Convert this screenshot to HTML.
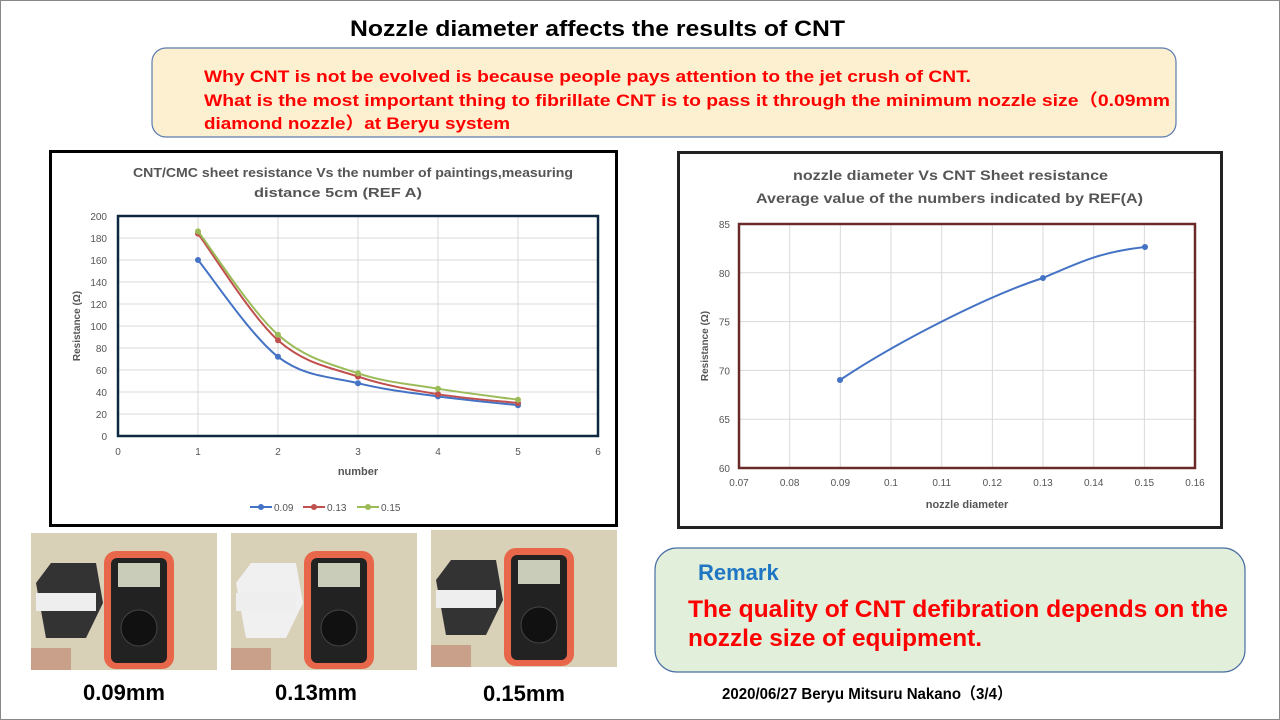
<!DOCTYPE html>
<html><head><meta charset="utf-8"><style>
html,body{margin:0;padding:0;background:#fff}
svg{display:block}
text{font-family:"Liberation Sans","Noto Sans CJK JP",sans-serif}
</style></head><body>
<svg id="s" width="1280" height="720" viewBox="0 0 1280 720" xmlns="http://www.w3.org/2000/svg">
<rect x="0.5" y="0.5" width="1279" height="719" fill="#fff" stroke="#888"/>
<text x="350" y="36" textLength="495" lengthAdjust="spacingAndGlyphs" font-size="22" font-weight="bold" fill="#000">Nozzle diameter affects the results of CNT</text>
<rect x="152" y="48" width="1024" height="89" rx="14" fill="#fdf0d0" stroke="#5b7bb0" stroke-width="1.2"/>
<text font-size="17" font-weight="bold" fill="#f00"><tspan x="204" y="82" textLength="767" lengthAdjust="spacingAndGlyphs">Why CNT is not be evolved is because people pays attention to the jet crush of CNT.</tspan><tspan x="204" y="106" textLength="966" lengthAdjust="spacingAndGlyphs">What is the most important thing to fibrillate CNT is to pass it through the minimum nozzle size（0.09mm</tspan><tspan x="204" y="129" textLength="306" lengthAdjust="spacingAndGlyphs">diamond nozzle）at Beryu system</tspan></text>

<!-- left chart -->
<rect x="50.5" y="151.5" width="566" height="374" fill="#fff" stroke="#000" stroke-width="3"/>
<text x="133" y="177" textLength="440" lengthAdjust="spacingAndGlyphs" font-size="13" font-weight="bold" fill="#555">CNT/CMC sheet resistance Vs the number of paintings,measuring</text>
<text x="254" y="197" textLength="168" lengthAdjust="spacingAndGlyphs" font-size="13" font-weight="bold" fill="#555">distance  5cm (REF A)</text>
<g id="lgrid" stroke="#d9d9d9" stroke-width="1"></g>
<rect x="118" y="216" width="480" height="220" fill="none" stroke="#0e2841" stroke-width="2.5"/>
<g id="lticks" font-size="10" fill="#555"></g>
<text x="358" y="475" text-anchor="middle" font-size="11" font-weight="bold" fill="#555">number</text>
<text transform="translate(80,326) rotate(-90)" text-anchor="middle" font-size="10" font-weight="bold" fill="#555">Resistance  (Ω)</text>
<g id="lseries"></g>
<g font-size="10" fill="#555">
<line x1="250" y1="507" x2="272" y2="507" stroke="#4472c4" stroke-width="2"/><circle cx="261" cy="507" r="3" fill="#4472c4"/><text x="274" y="511">0.09</text>
<line x1="303" y1="507" x2="325" y2="507" stroke="#c0504d" stroke-width="2"/><circle cx="314" cy="507" r="3" fill="#c0504d"/><text x="327" y="511">0.13</text>
<line x1="357" y1="507" x2="379" y2="507" stroke="#9bbb59" stroke-width="2"/><circle cx="368" cy="507" r="3" fill="#9bbb59"/><text x="381" y="511">0.15</text>
</g>

<!-- right chart -->
<rect x="678.5" y="152.5" width="543" height="375" fill="#fff" stroke="#222" stroke-width="3"/>
<text x="793" y="180" textLength="315" lengthAdjust="spacingAndGlyphs" font-size="14" font-weight="bold" fill="#555">nozzle diameter Vs CNT Sheet resistance</text>
<text x="756" y="203" textLength="387" lengthAdjust="spacingAndGlyphs" font-size="14" font-weight="bold" fill="#555">Average value of the numbers indicated by REF(A)</text>
<g id="rgrid" stroke="#d9d9d9" stroke-width="1"></g>
<rect x="739" y="224" width="456" height="244" fill="none" stroke="#6b2a2a" stroke-width="2.5"/>
<g id="rticks" font-size="10" fill="#555"></g>
<text x="967" y="508" text-anchor="middle" font-size="11" font-weight="bold" fill="#555">nozzle diameter</text>
<text transform="translate(708,346) rotate(-90)" text-anchor="middle" font-size="10" font-weight="bold" fill="#555">Resistance  (Ω)</text>
<path d="M840,380 C900,340 990,295 1043,278 C1080,262 1100,252 1145,247" fill="none" stroke="#4472c4" stroke-width="2"/>
<circle cx="840" cy="380" r="3" fill="#4472c4"/><circle cx="1043" cy="278" r="3" fill="#4472c4"/><circle cx="1145" cy="247" r="3" fill="#4472c4"/>

<!-- photos -->
<g id="photos"></g>
<text x="124" y="700" text-anchor="middle" font-size="22" font-weight="bold" fill="#000">0.09mm</text>
<text x="316" y="700" text-anchor="middle" font-size="22" font-weight="bold" fill="#000">0.13mm</text>
<text x="524" y="701" text-anchor="middle" font-size="22" font-weight="bold" fill="#000">0.15mm</text>

<!-- remark -->
<rect x="655" y="548" width="590" height="124" rx="22" fill="#e2efda" stroke="#4a6fa5" stroke-width="1.2"/>
<text x="698" y="580" font-size="22" font-weight="bold" fill="#1f77c4">Remark</text>
<text font-size="24" font-weight="bold" fill="#f00"><tspan x="688" y="617" textLength="540" lengthAdjust="spacingAndGlyphs">The quality of CNT defibration depends on the</tspan><tspan x="688" y="646" textLength="294" lengthAdjust="spacingAndGlyphs">nozzle size of equipment.</tspan></text>
<text x="722" y="699" textLength="290" lengthAdjust="spacingAndGlyphs" font-size="16" font-weight="bold" fill="#000">2020/06/27 Beryu Mitsuru Nakano（3/4）</text>
</svg>
<script>
var NS="http://www.w3.org/2000/svg";
function el(p,t,a,txt){var e=document.createElementNS(NS,t);for(var k in a)e.setAttribute(k,a[k]);if(txt!=null)e.textContent=txt;document.getElementById(p).appendChild(e);return e;}
for(var i=0;i<=10;i++){var y=436-i*22;el("lgrid","line",{x1:118,x2:598,y1:y,y2:y});el("lticks","text",{x:107,y:y+4,"text-anchor":"end"},i*20);}
for(var i=0;i<=6;i++){var x=118+i*80;el("lgrid","line",{x1:x,x2:x,y1:216,y2:436});el("lticks","text",{x:x,y:455,"text-anchor":"middle"},i);}
for(var i=0;i<=5;i++){var y=468-i*48.8;el("rgrid","line",{x1:739,x2:1195,y1:y,y2:y});el("rticks","text",{x:730,y:y+4,"text-anchor":"end"},60+i*5);}
var xl=["0.07","0.08","0.09","0.1","0.11","0.12","0.13","0.14","0.15","0.16"];
for(var i=0;i<10;i++){var x=739+i*50.67;el("rgrid","line",{x1:x,x2:x,y1:224,y2:468});el("rticks","text",{x:x,y:486,"text-anchor":"middle"},xl[i]);}
var S=[["#4472c4",[160,72,48,36,28]],["#c0504d",[184,87,54,38,30]],["#9bbb59",[186,92,57,43,33]]];
S.forEach(function(s){var P=s[1].map(function(v,i){return [198+i*80,436-v*1.1];});
var d="M"+P[0];for(var i=0;i<P.length-1;i++){var p0=P[i-1]||P[i],p1=P[i],p2=P[i+1],p3=P[i+2]||p2;
d+=" C"+(p1[0]+(p2[0]-p0[0])/6)+","+(p1[1]+(p2[1]-p0[1])/6)+" "+(p2[0]-(p3[0]-p1[0])/6)+","+(p2[1]-(p3[1]-p1[1])/6)+" "+p2;}
el("lseries","path",{d:d,fill:"none",stroke:s[0],"stroke-width":2});
P.forEach(function(p){el("lseries","circle",{cx:p[0],cy:p[1],r:3,fill:s[0]});});});
[[31,533,"#333","2.7"],[231,533,"#f0f0f0","3.2"],[431,530,"#333","3.3"]].forEach(function(q){var x=q[0],y=q[1];
el("photos","rect",{x:x,y:y,width:186,height:137,fill:"#d9d0b8"});
el("photos","polygon",{points:[x+5,y+50,x+20,y+30,x+65,y+30,x+72,y+70,x+55,y+105,x+15,y+105].join(" "),fill:q[2]});
el("photos","rect",{x:x+5,y:y+60,width:60,height:18,fill:"#eee"});
el("photos","rect",{x:x+73,y:y+18,width:70,height:118,rx:12,fill:"#e8674a"});
el("photos","rect",{x:x+80,y:y+25,width:56,height:105,rx:6,fill:"#222"});
el("photos","rect",{x:x+87,y:y+30,width:42,height:24,fill:"#c8ccb8"});
el("photos","circle",{cx:x+108,cy:y+95,r:18,fill:"#111",stroke:"#444"});
el("photos","rect",{x:x,y:y+115,width:40,height:22,fill:"#c9a08a"});});
</script>
</body></html>
